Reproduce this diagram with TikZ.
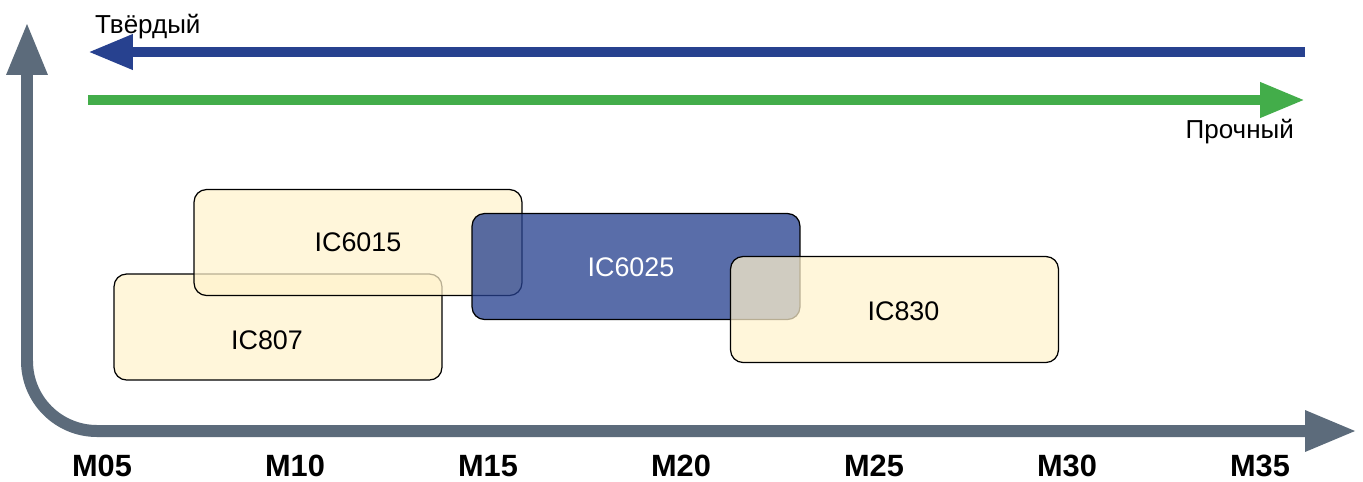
\documentclass[tikz,border=0pt]{standalone}
\usepackage{fontspec}
\setmainfont{Liberation Sans}
\usepackage{tikz}
\usetikzlibrary{arrows.meta,positioning,calc}
\definecolor{axisGray}{HTML}{5C6B7B}
\definecolor{hardBlue}{HTML}{27418F}
\definecolor{toughGreen}{HTML}{43AD4A}
\definecolor{gradeYellow}{HTML}{FFF2CC}

\begin{document}
\begin{tikzpicture}[x=0.02cm, y=-0.02cm,
        axis/.style={draw=axisGray, line width=0.24cm, rounded corners=1.4cm,
                     {Triangle[length=1.06cm, width=0.76cm]}-{Triangle[length=1.04cm, width=0.76cm]}},
        trend/.style={line width=0.2cm, -{Triangle[length=0.9cm, width=0.66cm]}},
        grade/.style={draw=black, line width=0.7pt, rounded corners=0.25cm, fill=gradeYellow,
                      fill opacity=0.72, minimum width=6.56cm, minimum height=2.12cm},
        tag/.style={font=\fontsize{15.3}{18}\selectfont, text=black},
        tick/.style={font=\bfseries\fontsize{17.5}{21}\selectfont, anchor=base},
        hint/.style={font=\fontsize{14.8}{18}\selectfont}
    ]
        \useasboundingbox (0,0) rectangle (1363,481);

        % axes
        \coordinate (ytip) at (27,22);
        \coordinate (xtip) at (1357,431);
        \draw[axis] (ytip) |- (xtip);
        \foreach \lbl [count=\i from 0] in {M05,M10,M15,M20,M25,M30,M35}
            \node[tick] (m\i) at ({102+193*\i},476) {\lbl};

        % trend arrows
        \coordinate (hardR) at (1305,52);
        \coordinate (hardL) at (88,52);
        \coordinate (toughL) at (88,100);
        \coordinate (toughR) at (1305,100);
        \draw[trend, hardBlue] (hardR) -- (hardL);
        \draw[trend, toughGreen] (toughL) -- (toughR);
        \node[hint, anchor=base west] (hardtxt) at (89,33) {Твёрдый};
        \node[hint, anchor=base east] (toughtxt) at (1300,138) {Прочный};

        % grades
        \node[grade] (b807) at (278,327) {};
        \node[grade] (b6015) at (358,242.5) {};
        \node[grade, fill=hardBlue, fill opacity=0.77] (b6025) at (636,266.5) {};
        \node[grade] (b830) at (894.5,309.5) {};
        \node[tag] (t807) at ([shift={(-11,13)}]b807.center) {IC807};
        \node[tag] (t6015) at (b6015.center) {IC6015};
        \node[tag, text=white] (t6025) at ([shift={(-5,1)}]b6025.center) {IC6025};
        \node[tag] (t830) at ([shift={(9,2)}]b830.center) {IC830};
    \end{tikzpicture}
\end{document}
